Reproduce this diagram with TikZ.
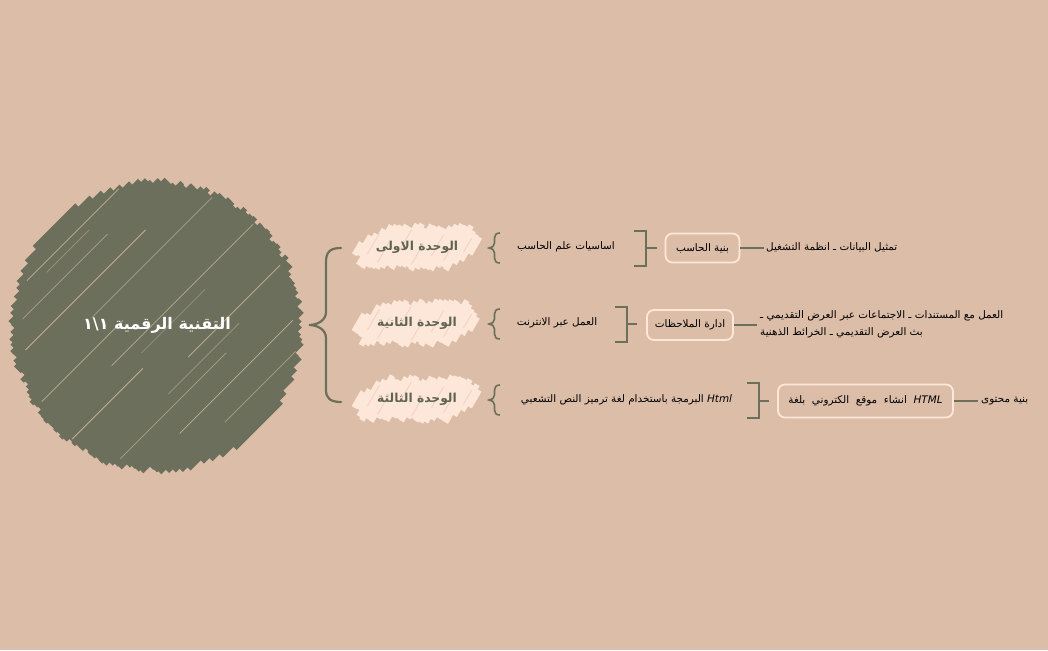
\documentclass[tikz,border=0pt]{standalone}
\usepackage{fontspec}
\usetikzlibrary{calc}
\TeXXeTstate=1
\newfontfamily\arabicfont[Script=Arabic]{DejaVu Sans}
\definecolor{bg}{HTML}{DCBEA8}
\definecolor{olive}{HTML}{6B6F5B}
\definecolor{cream}{HTML}{FDE7D9}
\newcommand{\artxt}[1]{\beginR #1\endR}
\newcommand{\unitscrib}[1]{%
 \begin{scope}[shift={(#1)}]
  \foreach \u in {-58,-53,...,58} {
    \pgfmathsetmacro{\L}{24*min(1,(66-abs(\u))/24)}
    \pgfmathsetmacro{\a}{\L+rand*3}
    \pgfmathsetmacro{\b}{\L+rand*3}
    \draw[cream, line width=5.6] ({\u-0.5*\a},{0.866*\a}) -- ({\u+0.5*\b},{-0.866*\b});
  }
  \foreach \u/\s/\e in {-45.5/-8/16,-30.5/-18/6,-15.5/-4/20,4.5/-20/2,19.5/-10/14,34.5/-16/8,49.5/-6/10} {
    \draw[bg, line width=0.6, opacity=0.6] ({\u+0.5*\s},{-0.866*\s}) -- ({\u+0.5*\e},{-0.866*\e});
  }
 \end{scope}}
\tikzset{
  brace/.style={olive, line width=2.2, line cap=round},
  sbrace/.style={olive, line width=1.6},
  link/.style={olive, line width=1.8},
  unitlbl/.style={font=\arabicfont\bfseries\fontsize{12.3}{14}\selectfont, text=olive!90!black, inner sep=0},
  leaf/.style={font=\arabicfont\fontsize{10.4}{17}\selectfont, text=black, inner sep=0},
  box/.style={draw=cream, line width=1.8, rounded corners=7, font=\arabicfont\fontsize{10.4}{12}\selectfont, text=black, inner sep=0},
}
\begin{document}
\begin{tikzpicture}[x=1pt,y=-1pt]
\pgfmathsetseed{11}
\fill[bg] (0,0) rectangle (1048,650);
\useasboundingbox (0,0) rectangle (1048,650);
% root scribble circle
\coordinate (rc) at (157,326);
\begin{scope}[shift={(rc)}]
\foreach \t in {-142,-137.5,...,142} {
  \pgfmathsetmacro{\h}{100*sqrt(2.1025-(\t/100)^2)}
  \pgfmathsetmacro{\a}{\h+rand*3.5-0.5}
  \pgfmathsetmacro{\b}{\h+rand*3.5-0.5}
  \draw[olive, line width=5.0] ({0.7071*(\t-\a)},{0.7071*(\t+\a)}) -- ({0.7071*(\t+\b)},{0.7071*(\t-\b)});
}
\foreach \t/\s/\e/\o in {-124/-60/70/0.8,-100/-90/30/0.6,-76/-110/60/0.8,-52/-40/130/0.5,-28/-135/-20/0.8,-4/-60/140/0.7,20/-140/-40/0.8,44/0/130/0.7,68/-120/30/0.6,92/-60/100/0.8,116/-20/80/0.5,-116/-40/20/0.4,8/-30/60/0.4,56/-40/60/0.4} {
  \draw[bg, line width=0.8, opacity=\o] ({0.7071*(\t+\s)},{0.7071*(\t-\s)}) -- ({0.7071*(\t+\e)},{0.7071*(\t-\e)});
}
\end{scope}
\node[font=\arabicfont\bfseries\fontsize{16}{18}\selectfont, text=white, inner sep=0] (root) at (157,325) {\artxt{التقنية الرقمية ١\textbackslash١}};
% main brace
\coordinate (mtip) at (309,325);
\coordinate (m1) at (341,248);
\coordinate (m3) at (341,402);
\draw[brace] (m1) .. controls (330,248) and (326,252) .. (326,262) -- (326,312) .. controls (326,320) and (318,325) .. (mtip) .. controls (318,325) and (326,330) .. (326,338) -- (326,390) .. controls (326,398) and (330,402) .. (m3);
% unit nodes
\unitscrib{417,247}
\unitscrib{417,323}
\unitscrib{417,399}
\node[unitlbl] (u1) at (417,247) {\artxt{الوحدة الاولى}};
\node[unitlbl] (u2) at (417,323) {\artxt{الوحدة الثانية}};
\node[unitlbl] (u3) at (417,399) {\artxt{الوحدة الثالثة}};
% small braces
\foreach \y/\n in {248/1,324/2,400/3} {
  \coordinate (sb\n) at (489,\y);
  \draw[sbrace] (500,\y-15) .. controls (496,\y-15) and (494.5,\y-13) .. (494.5,\y-10) -- (494.5,\y-5) .. controls (494.5,\y-2) and (492,\y) .. (sb\n) .. controls (492,\y) and (494.5,\y+2) .. (494.5,\y+5) -- (494.5,\y+10) .. controls (494.5,\y+13) and (496,\y+15) .. (500,\y+15);
}
% leaves under units
\node[leaf] (a1) at (566,247) {\artxt{اساسيات علم الحاسب}};
\node[leaf] (a2) at (557,323) {\artxt{العمل عبر الانترنت}};
\node[leaf] (a3) at (626.5,400) {\artxt{\beginL\textit{Html}\endL{} البرمجة باستخدام لغة ترميز النص التشعبي}};
% boxes
\node[box, minimum width=74, minimum height=29] (b1) at (702.5,248) {\artxt{بنية الحاسب}};
\node[box, minimum width=86, minimum height=30] (b2) at (690,325) {\artxt{ادارة الملاحظات}};
\node[box, minimum width=175, minimum height=33] (b3) at (865.5,401) {\artxt{\beginL\textit{HTML}\endL{}\ \ انشاء\ \ موقع\ \ الكتروني\ \ بلغة}};
% square brackets
\coordinate (k1) at (657,248);
\draw[link] (634,231) -- (646,231) -- (646,266) -- (634,266);
\draw[link] (646,248) -- (k1);
\coordinate (k2) at (637,324);
\draw[link] (615,307) -- (627,307) -- (627,342) -- (615,342);
\draw[link] (627,324) -- (k2);
\coordinate (k3) at (769,401);
\draw[link] (747,383) -- (759,383) -- (759,418) -- (747,418);
\draw[link] (759,401) -- (k3);
% right texts
\node[leaf, anchor=west] (t1) at (766,247) {\artxt{تمثيل البيانات ـ انظمة التشغيل}};
\node[leaf, anchor=west, align=left] (t2) at (760,324) {\artxt{العمل مع المستندات ـ الاجتماعات عبر العرض التقديمي ـ}\\\artxt{بث العرض التقديمي ـ الخرائط الذهنية}};
\node[leaf, anchor=west] (t3) at (981,401) {\artxt{بنية محتوى}};
\draw[link] (b1.east) -- ([xshift=-2pt]b1.east -| t1.west);
\draw[link] (b2.east) -- ([xshift=-3pt]b2.east -| t2.west);
\draw[link] (b3.east) -- ([xshift=-3pt]b3.east -| t3.west);
\end{tikzpicture}
\end{document}
